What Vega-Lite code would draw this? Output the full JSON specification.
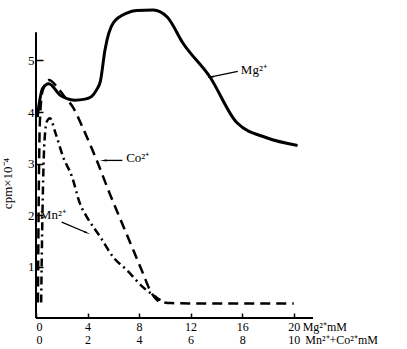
{
  "$schema": "https://vega.github.io/schema/vega-lite/v6.json",
  "width": 277,
  "height": 309,
  "autosize": {"type": "none"},
  "padding": {"left": 36, "top": 9, "right": 94, "bottom": 31},
  "background": "white",
  "config": {"view": {"stroke": null}, "font": "Liberation Serif"},
  "datasets": {
    "mg": [
      {"x": 0.1, "v": 3.9}, {"x": 0.5, "v": 4.45}, {"x": 1.0, "v": 4.55}, {"x": 1.86, "v": 4.33},
      {"x": 2.4, "v": 4.26}, {"x": 3.0, "v": 4.23}, {"x": 3.8, "v": 4.25}, {"x": 4.3, "v": 4.3},
      {"x": 4.7, "v": 4.43}, {"x": 5.0, "v": 4.6}, {"x": 5.35, "v": 5.2}, {"x": 6.0, "v": 5.73},
      {"x": 7.05, "v": 5.92}, {"x": 7.8, "v": 5.97}, {"x": 9.1, "v": 5.98}, {"x": 10.2, "v": 5.84},
      {"x": 11.4, "v": 5.34}, {"x": 13.5, "v": 4.68}, {"x": 15.6, "v": 3.79}, {"x": 17.9, "v": 3.5},
      {"x": 20.3, "v": 3.35}
    ],
    "co": [
      {"x": 0.15, "v": 0.3}, {"x": 0.2, "v": 2.0}, {"x": 0.3, "v": 3.8}, {"x": 0.5, "v": 4.4},
      {"x": 1.0, "v": 4.62}, {"x": 1.6, "v": 4.5}, {"x": 2.2, "v": 4.3}, {"x": 2.9, "v": 4.08},
      {"x": 3.6, "v": 3.71}, {"x": 4.7, "v": 3.07}, {"x": 5.7, "v": 2.43}, {"x": 7.0, "v": 1.65},
      {"x": 8.3, "v": 0.87}, {"x": 8.85, "v": 0.54}, {"x": 9.6, "v": 0.32}, {"x": 10.5, "v": 0.29},
      {"x": 14, "v": 0.28}, {"x": 20, "v": 0.28}
    ],
    "mn": [
      {"x": 0.4, "v": 0.3}, {"x": 0.5, "v": 2.0}, {"x": 0.65, "v": 3.4}, {"x": 0.85, "v": 3.82},
      {"x": 1.08, "v": 3.88}, {"x": 1.5, "v": 3.6}, {"x": 2.1, "v": 3.13}, {"x": 2.8, "v": 2.74},
      {"x": 3.4, "v": 2.23}, {"x": 4.0, "v": 1.94}, {"x": 5.0, "v": 1.57}, {"x": 6.0, "v": 1.18},
      {"x": 7.05, "v": 0.93}, {"x": 8.3, "v": 0.6}, {"x": 9.4, "v": 0.39}, {"x": 9.9, "v": 0.31}
    ],
    "axes": [
      {"x": 0, "v": 0, "x2": 0, "v2": 5.55},
      {"x": 0, "v": 0, "x2": 21.5, "v2": 0}
    ],
    "arrows": [
      {"x": 15.66, "v": 4.79, "x2": 13.6, "v2": 4.68, "a": 258},
      {"x": 6.7, "v": 3.06, "x2": 5.3, "v2": 3.06, "a": 270},
      {"x": 2.0, "v": 1.86, "x2": 3.9, "v2": 1.66, "a": 114}
    ],
    "labels": [
      {"x": 15.9, "v": 4.82, "t": "Mg²⁺", "s": 13},
      {"x": 7.0, "v": 3.1, "t": "Co²⁺", "s": 13},
      {"x": 0.3, "v": 2.0, "t": "Mn²⁺", "s": 13},
      {"x": 20.7, "v": -0.175, "t": "Mg²⁺mM", "s": 12},
      {"x": 20.9, "v": -0.43, "t": "Mn²⁺+Co²⁺mM", "s": 12}
    ]
  },
  "layer": [
    {
      "data": {"name": "axes"},
      "mark": {"type": "rule", "color": "black", "strokeWidth": 2},
      "encoding": {
        "x": {"field": "x", "type": "quantitative", "scale": {"domain": [0, 21.5], "nice": false, "zero": false},
          "axis": {"values": [0, 4, 8, 12, 16, 20], "domain": false, "grid": false, "title": null,
            "tickSize": -5, "tickWidth": 1.5, "tickColor": "black",
            "labelExpr": "[format(datum.value, 'd'), format(datum.value / 2, 'd')]",
            "labelFont": "Liberation Serif", "labelFontSize": 12, "labelColor": "black", "labelPadding": 8, "labelLineHeight": 13}},
        "y": {"field": "v", "type": "quantitative", "scale": {"domain": [0, 6], "nice": false, "zero": false},
          "axis": {"values": [1, 2, 3, 4, 5], "domain": false, "grid": false, "title": "cpm×10⁻⁴",
            "titleFont": "Liberation Serif", "titleFontSize": 13, "titleFontWeight": "normal", "titleColor": "black",
            "titleX": -22, "titleY": 174, "titleAlign": "center",
            "tickSize": -7, "tickWidth": 1.5, "tickColor": "black",
            "labelFont": "Liberation Serif", "labelFontSize": 13, "labelColor": "black", "labelPadding": 9}},
        "x2": {"field": "x2"},
        "y2": {"field": "v2"}
      }
    },
    {
      "data": {"name": "mg"},
      "mark": {"type": "line", "color": "black", "strokeWidth": 3, "interpolate": "monotone"},
      "encoding": {"x": {"field": "x", "type": "quantitative"}, "y": {"field": "v", "type": "quantitative"}}
    },
    {
      "data": {"name": "co"},
      "mark": {"type": "line", "color": "black", "strokeWidth": 2.5, "interpolate": "monotone", "strokeDash": [10, 6]},
      "encoding": {"x": {"field": "x", "type": "quantitative"}, "y": {"field": "v", "type": "quantitative"}}
    },
    {
      "data": {"name": "mn"},
      "mark": {"type": "line", "color": "black", "strokeWidth": 2.5, "interpolate": "monotone", "strokeDash": [8, 4, 2, 4]},
      "encoding": {"x": {"field": "x", "type": "quantitative"}, "y": {"field": "v", "type": "quantitative"}}
    },
    {
      "data": {"name": "arrows"},
      "mark": {"type": "rule", "color": "black", "strokeWidth": 1.3},
      "encoding": {"x": {"field": "x", "type": "quantitative"}, "y": {"field": "v", "type": "quantitative"},
        "x2": {"field": "x2"}, "y2": {"field": "v2"}}
    },
    {
      "data": {"name": "arrows"},
      "mark": {"type": "point", "shape": "wedge", "filled": true, "color": "black", "size": 60, "opacity": 1},
      "encoding": {"x": {"field": "x2", "type": "quantitative"}, "y": {"field": "v2", "type": "quantitative"},
        "angle": {"field": "a", "type": "quantitative", "scale": null}}
    },
    {
      "data": {"name": "labels"},
      "mark": {"type": "text", "align": "left", "baseline": "middle", "color": "black", "font": "Liberation Serif"},
      "encoding": {"x": {"field": "x", "type": "quantitative"}, "y": {"field": "v", "type": "quantitative"},
        "text": {"field": "t"}, "size": {"field": "s", "type": "quantitative", "scale": null}}
    }
  ]
}
